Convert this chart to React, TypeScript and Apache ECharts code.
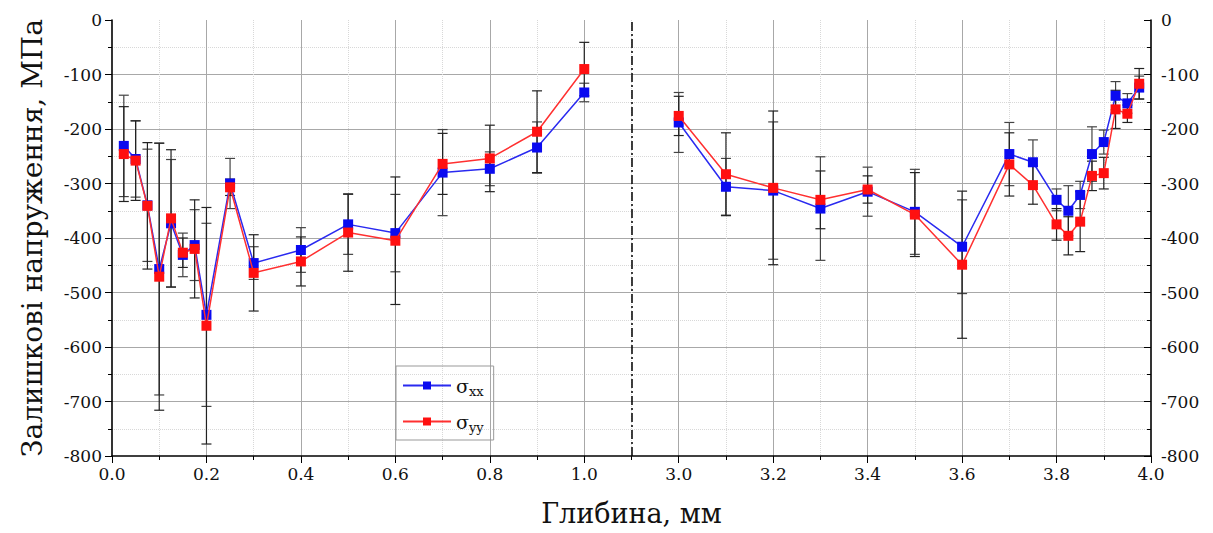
import React, { useEffect, useRef } from "react";
import * as echarts from "echarts";

// Depths (mm)
const leftDepth = [0.025, 0.05, 0.075, 0.1, 0.125, 0.15, 0.175, 0.2, 0.25, 0.3, 0.4, 0.5, 0.6, 0.7, 0.8, 0.9, 1.0];
const rightDepth = [3.0, 3.1, 3.2, 3.3, 3.4, 3.5, 3.6, 3.7, 3.75, 3.8, 3.825, 3.85, 3.875, 3.9, 3.925, 3.95, 3.975];

// Residual stresses (MPa)
const leftSxx = [-231, -255, -340, -457, -373, -431, -413, -541, -300, -446, -422, -375, -391, -280, -273, -234, -133];
const leftSyy = [-246, -258, -341, -471, -364, -427, -420, -561, -307, -464, -443, -390, -405, -264, -254, -205, -90];
const leftSxxErr = [93, 70, 103, 231, 117, 40, 65, 168, 46, 30, 41, 55, 71, 79, 31, 47, 17];
const leftSyyErr = [87, 73, 116, 245, 126, 27, 90, 217, 15, 70, 45, 71, 117, 56, 61, 75, 49];

const rightSxx = [-188, -306, -313, -346, -315, -352, -416, -246, -261, -330, -350, -321, -246, -224, -139, -153, -124];
const rightSyy = [-176, -283, -308, -330, -311, -357, -449, -265, -303, -375, -396, -370, -286, -281, -164, -172, -117];
const rightSxxErr = [55, 52, 126, 95, 45, 78, 86, 58, 41, 20, 46, 25, 50, 22, 26, 18, 21];
const rightSyyErr = [36, 76, 141, 53, 25, 77, 135, 58, 35, 29, 35, 55, 27, 29, 35, 16, 28];

const yTicks = { min: -800, max: 0, interval: 100 };
const BREAK = 1.1; // end of first panel (mm)
const SHIFT = 1.8; // second panel starts at 2.9 mm

const toAxis = (d: number) => (d > BREAK ? d - SHIFT : d);
const fromAxis = (v: number) => (v > BREAK + 1e-6 ? v + SHIFT : v);

const FONT = "'DejaVu Serif', serif";
const BLUE = "#0a0af0";
const RED = "#ff1010";

const pts = (depth: number[], vals: number[]) => depth.map((d, i) => [toAxis(d), vals[i]]);
const errs = (depth: number[], vals: number[], err: number[]) =>
  depth.map((d, i) => [toAxis(d), vals[i] - err[i], vals[i] + err[i]]);

const errorRender = (color: string) => (params: any, api: any) => {
  const x = api.value(0);
  const lo = api.coord([x, api.value(1)]);
  const hi = api.coord([x, api.value(2)]);
  const hw = 5;
  const style = { stroke: color, lineWidth: 1.2 };
  return {
    type: "group",
    children: [
      { type: "line", shape: { x1: lo[0], y1: lo[1], x2: hi[0], y2: hi[1] }, style },
      { type: "line", shape: { x1: lo[0] - hw, y1: lo[1], x2: lo[0] + hw, y2: lo[1] }, style },
      { type: "line", shape: { x1: hi[0] - hw, y1: hi[1], x2: hi[0] + hw, y2: hi[1] }, style },
    ],
  };
};

const errSeries = (name: string, data: number[][], color: string) => ({
  type: "custom",
  name,
  renderItem: errorRender(color),
  data,
  encode: { x: 0, y: [1, 2] },
  z: 1,
  silent: true,
});

const lineSeries = (name: string, data: number[][], color: string, lineColor: string, z: number, extra: any = {}) => ({
  type: "line",
  name,
  data,
  symbol: "rect",
  symbolSize: 10,
  itemStyle: { color, borderColor: color, borderWidth: 0 },
  lineStyle: { color: lineColor, width: 1.5 },
  z,
  ...extra,
});

export default function App() {
  const ref = useRef<HTMLDivElement>(null);

  useEffect(() => {
    if (!ref.current) return;
    const chart = echarts.init(ref.current, undefined, { renderer: "svg" });

    const yAxisBase = {
      type: "value",
      min: yTicks.min,
      max: yTicks.max,
      interval: yTicks.interval,
      axisLine: { show: true, onZero: false, lineStyle: { color: "#000", width: 1.6 } },
      axisLabel: { fontFamily: FONT, fontSize: 17, color: "#111", margin: 10 },
      minorTick: { show: true, splitNumber: 2, length: 4, lineStyle: { color: "#000" } },
    };

    chart.setOption({
      animation: false,
      backgroundColor: "#fff",
      textStyle: { fontFamily: FONT },
      grid: { left: 112, right: 62, top: 20, bottom: 77 },
      legend: {
        data: ["sxx", "syy"],
        orient: "vertical",
        left: 396,
        top: 366,
        itemWidth: 48,
        itemHeight: 10,
        itemGap: 14,
        padding: [10, 10, 6, 6],
        borderColor: "#999",
        borderWidth: 1,
        formatter: (name: string) => (name === "sxx" ? "{s|σ}{sub|xx}" : "{s|σ}{sub|yy}"),
        textStyle: {
          fontFamily: FONT,
          color: "#111",
          rich: {
            s: { fontFamily: FONT, fontSize: 19, color: "#111" },
            sub: { fontFamily: FONT, fontSize: 13, color: "#111", padding: [12, 0, 0, 0] },
          },
        },
      },
      xAxis: {
        type: "value",
        min: 0,
        max: 2.2,
        interval: 0.2,
        name: "Глибина, мм",
        nameLocation: "middle",
        nameGap: 44,
        nameTextStyle: { fontFamily: FONT, fontSize: 27, color: "#111" },
        axisLine: { show: true, onZero: false, lineStyle: { color: "#000", width: 1.6 } },
        axisTick: { show: true, length: 7, lineStyle: { color: "#000" } },
        minorTick: { show: true, splitNumber: 2, length: 4, lineStyle: { color: "#000" } },
        axisLabel: {
          fontFamily: FONT,
          fontSize: 17,
          color: "#111",
          margin: 9,
          formatter: (v: number) => fromAxis(v).toFixed(1),
        },
        splitLine: { show: true, showMinLine: false, showMaxLine: false, lineStyle: { color: "#a8a8a8", width: 1 } },
        minorSplitLine: { show: true, lineStyle: { color: "#d8d8d8", type: "dotted", width: 1 } },
      },
      yAxis: [
        {
          ...yAxisBase,
          position: "left",
          name: "Залишкові напруження, МПа",
          nameLocation: "middle",
          nameGap: 66,
          nameTextStyle: { fontFamily: FONT, fontSize: 28, color: "#111" },
          axisTick: { show: true, length: 7, lineStyle: { color: "#000" } },
          splitLine: { show: true, showMaxLine: false, showMinLine: false, lineStyle: { color: "#a8a8a8", width: 1 } },
          minorSplitLine: { show: true, lineStyle: { color: "#d8d8d8", type: "dotted", width: 1 } },
        },
        {
          ...yAxisBase,
          position: "right",
          axisTick: { show: true, inside: true, length: 7, lineStyle: { color: "#000" } },
          splitLine: { show: false },
        },
      ],
      series: [
        errSeries("errXL", errs(leftDepth, leftSxx, leftSxxErr), "#444"),
        errSeries("errYL", errs(leftDepth, leftSyy, leftSyyErr), "#222"),
        errSeries("errXR", errs(rightDepth, rightSxx, rightSxxErr), "#444"),
        errSeries("errYR", errs(rightDepth, rightSyy, rightSyyErr), "#222"),
        lineSeries("sxx", pts(leftDepth, leftSxx), BLUE, "#2a2af0", 3, {
          markLine: {
            silent: true,
            symbol: "none",
            label: { show: false },
            lineStyle: { color: "#000", type: [9, 3, 2, 3], width: 1.5 },
            data: [{ xAxis: BREAK }],
          },
        }),
        lineSeries("sxx", pts(rightDepth, rightSxx), BLUE, "#2a2af0", 3),
        lineSeries("syy", pts(leftDepth, leftSyy), RED, "#ff3030", 4),
        lineSeries("syy", pts(rightDepth, rightSyy), RED, "#ff3030", 4),
      ],
    });

    return () => chart.dispose();
  }, []);

  return (
    <div
      ref={ref}
      style={{ position: "absolute", left: 0, top: 0, width: 1213, height: 533, background: "#fff" }}
    />
  );
}
